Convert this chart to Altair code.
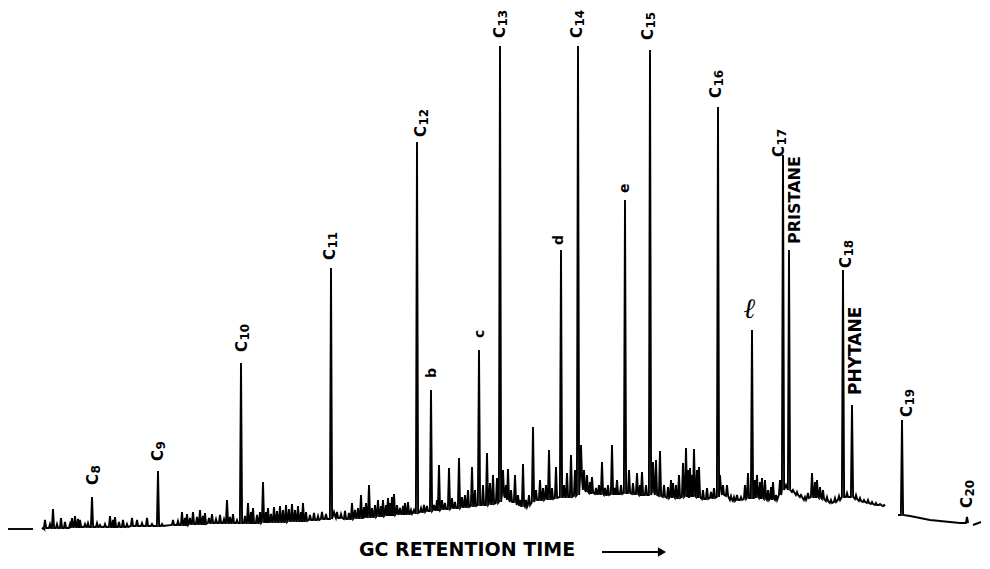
import altair as alt
import pandas as pd

# ---- chromatogram trace: peaks ----
# retention (arbitrary units), peak apex response, local baseline response
retention_time = [
    0.8, 3.3,
    4.3, 4.5, 5.0, 5.3, 5.7, 6.1, 6.5, 7.0, 7.2, 7.5, 7.8, 8.0, 8.5, 8.8, 9.2, 9.7, 10.0, 10.5,
    11.0, 11.3, 11.5, 11.9, 12.3, 12.7, 13.2, 13.7, 14.2, 14.7, 15.2, 15.8, 16.2, 17.3, 17.8, 18.2,
    18.5, 18.7, 19.0, 19.3, 19.7, 20.0, 20.3, 20.5, 20.9, 21.2, 21.6, 22.0, 22.4, 22.7, 23.0, 23.3,
    23.7, 24.1, 24.5, 24.8, 25.1, 25.3, 25.7, 26.0, 26.3, 26.6, 26.8, 27.1, 27.4, 27.7, 28.0, 28.3,
    28.6, 28.9, 29.2, 29.5, 29.8, 30.1, 30.3, 30.6, 31.0, 31.4, 31.8, 32.2, 32.6, 33.1, 33.4, 33.7,
    34.1, 34.5, 34.9, 35.2, 35.5, 35.8, 36.1, 36.4, 36.6, 36.9, 37.2, 37.5, 37.8, 38.1, 38.3, 38.6,
    38.8, 39.0, 39.2, 39.4, 39.7, 40.0, 40.3, 40.5, 40.8, 41.1, 41.4, 41.7, 42.1, 42.4, 42.7, 43.1,
    43.4, 43.7, 43.9, 44.2, 44.5, 44.9, 45.2, 45.5, 45.9, 46.2, 46.5, 46.8, 47.2, 47.5, 47.9, 48.3,
    48.7, 49.0, 49.3, 49.7, 50.0, 50.3, 50.6, 50.8, 51.1, 51.5, 51.8, 52.0, 52.3, 52.6, 52.9, 53.3,
    53.6, 54.0, 54.3, 54.6, 54.9, 55.2, 55.6, 56.1, 56.4, 56.7, 57.1, 57.5, 57.8, 58.1, 58.4, 58.7,
    59.0, 59.2, 59.6, 59.9, 60.2, 60.5, 60.8, 61.2, 61.5, 61.7, 62.1, 62.5, 62.9, 63.3, 63.7, 64.0,
    64.2, 64.6, 65.0, 65.3, 65.6, 66.0, 66.4, 66.8, 67.1, 67.3, 67.6, 67.9, 68.3, 68.6, 68.8, 69.0,
    69.2, 69.4, 69.7, 69.9, 70.3, 70.7, 71.1, 71.4, 71.8, 72.0, 72.3, 72.7, 73.1, 73.4, 73.7, 74.1,
    74.5, 74.8, 75.2, 75.5, 75.7, 76.0, 76.2, 76.5, 76.8, 77.1, 77.3, 77.6, 78.0, 78.3, 78.6, 78.9,
    79.3, 79.7, 80.1, 80.5, 80.8, 81.2, 81.5, 81.7, 82.0, 82.3, 82.7, 83.1, 83.5, 83.9, 84.3, 84.7,
    85.2, 85.6, 86.0, 86.4, 86.8, 87.2, 87.6, 88.0, 88.4,
    89.8, 90.2, 91.0, 92.0, 93.0, 94.0, 95.0, 96.0, 96.7,
    97.3, 98.1,
]
peak_top = [
    32, 32,
    33, 41, 37, 52, 37, 43, 39, 37, 43, 45, 42, 41, 37, 38, 64, 38, 36, 37,
    45, 41, 44, 39, 41, 37, 43, 41, 38, 43, 37, 90, 37, 41, 40, 49,
    43, 47, 43, 49, 44, 51, 45, 48, 43, 47, 42, 46, 42, 61, 44, 47,
    41, 198, 45, 58, 49, 53, 46, 49, 79, 49, 53, 47, 54, 50, 55, 51,
    56, 52, 57, 51, 55, 49, 58, 49, 46, 48, 45, 49, 47, 293, 49, 49,
    47, 50, 48, 58, 51, 53, 66, 54, 58, 76, 53, 56, 61, 55, 61, 56,
    63, 58, 64, 67, 56, 53, 55, 58, 59, 51, 51, 419, 53, 56, 55, 171,
    56, 61, 96, 61, 58, 93, 63, 59, 103, 64, 66, 71, 94, 71, 211, 76,
    108, 78, 86, 83, 515, 91, 76, 92, 71, 86, 66, 61, 97, 61, 66, 134,
    71, 81, 73, 76, 111, 73, 94, 311, 76, 88, 106, 91, 515, 116, 91, 86,
    79, 84, 73, 76, 99, 73, 76, 116, 73, 81, 76, 361, 91, 78, 88, 76,
    89, 76, 511, 99, 101, 110, 76, 74, 81, 78, 76, 86, 98, 113, 91, 93,
    86, 112, 91, 94, 71, 73, 69, 73, 454, 86, 76, 76, 65, 64, 66, 64,
    76, 88, 231, 81, 86, 79, 83, 81, 71, 74, 79, 66, 81, 406, 76, 311,
    71, 69, 66, 64, 68, 88, 79, 81, 74, 71, 64, 61, 63, 65, 291, 68,
    156, 66, 63, 61, 61, 59, 58, 57, 56,
    46, 141, 45, 43, 41, 40, 39, 38, 44,
    36, 39,
]
peak_base = [
    32, 32,
    32, 33, 33, 33, 33, 33, 33, 33, 34, 34, 34, 34, 34, 34, 34, 34, 34, 34,
    34, 34, 34, 34, 34, 34, 35, 35, 35, 35, 35, 35, 35, 36, 36, 36,
    36, 36, 37, 37, 37, 37, 37, 37, 38, 38, 38, 38, 38, 38, 38, 38,
    38, 38, 38, 38, 38, 38, 38, 38, 39, 39, 39, 39, 39, 39, 39, 39,
    39, 40, 40, 40, 40, 40, 40, 40, 41, 41, 41, 42, 42, 42, 45, 43,
    43, 42, 42, 42, 43, 43, 43, 43, 44, 44, 44, 44, 45, 45, 45, 46,
    46, 46, 46, 46, 47, 47, 47, 47, 47, 47, 48, 48, 49, 49, 50, 50,
    51, 51, 51, 52, 52, 52, 53, 53, 53, 54, 54, 54, 55, 55, 56, 56,
    56, 57, 57, 58, 59, 66, 63, 61, 59, 59, 56, 55, 55, 54, 56, 59,
    61, 61, 61, 62, 62, 62, 63, 64, 64, 64, 64, 65, 66, 81, 71, 69,
    68, 68, 67, 67, 67, 66, 66, 67, 67, 67, 67, 68, 68, 67, 67, 66,
    66, 66, 66, 69, 66, 65, 64, 63, 64, 64, 63, 63, 64, 65, 64, 64,
    65, 65, 64, 64, 62, 62, 63, 63, 64, 71, 66, 65, 61, 60, 61, 61,
    62, 63, 63, 63, 64, 63, 63, 62, 61, 62, 62, 61, 66, 71, 73, 71,
    69, 66, 64, 61, 63, 64, 64, 64, 63, 62, 60, 58, 59, 61, 64, 64,
    64, 62, 60, 59, 58, 57, 56, 56, 55,
    46, 46, 45, 43, 41, 40, 39, 38, 38,
    36, 39,
]
# the pen trace is broken into separate pieces starting at these retention times
segment_starts = [0.0, 4.0, 89.0, 97.0]

# ---- peak labels ----
carbon_number = [8, 9, 10, 11, 12, 13, 14, 15, 16, 17, 18, 19, 20]
carbon_time = [9.3, 15.8, 24.2, 33.0, 42.1, 50.0, 57.7, 64.8, 71.6, 77.9, 84.6, 90.7, 96.7]
carbon_level = [76, 100, 209, 301, 424, 523, 523, 521, 463, 404, 293, 144, 53]

word_text = ["PRISTANE", "PHYTANE", "b", "c", "d", "e"]
word_time = [79.5, 85.6, 43.2, 48.0, 55.9, 62.5]
word_level = [317, 166, 183, 223, 316, 368]
word_size = [16, 17, 14, 14, 14, 14]

n = min(len(retention_time), len(peak_top), len(peak_base))
rows = []
hw = 0.11
i = 0
for k in range(n):
    t, top, base = retention_time[k], peak_top[k], peak_base[k]
    seg = sum(1 for s in segment_starts if t >= s)
    if top == base:
        rows.append({"t": t, "r": base, "seg": seg, "idx": i}); i += 1
    else:
        rows.append({"t": t - hw, "r": base, "seg": seg, "idx": i}); i += 1
        rows.append({"t": t, "r": top, "seg": seg, "idx": i}); i += 1
        rows.append({"t": t + hw, "r": base, "seg": seg, "idx": i}); i += 1
trace = pd.DataFrame(rows)

carbons = pd.DataFrame({
    "c": ["C"] * len(carbon_number),
    "num": [str(v) for v in carbon_number],
    "t": carbon_time, "r": carbon_level,
})
words = pd.DataFrame({"text": word_text, "t": word_time, "r": word_level, "fs": word_size})

xs = alt.Scale(domain=[0.8, 98.2], nice=False, zero=False)
ys = alt.Scale(domain=[0, 553], nice=False, zero=False)
X = alt.X("t:Q", scale=xs, axis=None)
Y = alt.Y("r:Q", scale=ys, axis=None)

line = alt.Chart(trace).mark_line(color="black", strokeWidth=1.9, strokeJoin="miter").encode(
    x=X, y=Y, detail="seg:N", order="idx:Q",
)

c_letters = alt.Chart(carbons).mark_text(
    angle=270, align="left", baseline="middle", font="DejaVu Sans", fontWeight="bold",
    fontSize=15, color="black",
).encode(x=X, y=Y, text="c:N")

c_numbers = alt.Chart(carbons).mark_text(
    angle=270, align="left", baseline="middle", font="DejaVu Sans", fontWeight="bold",
    fontSize=12, color="black", dx=11.5, dy=3,
).encode(x=X, y=Y, text="num:N")

lab = alt.Chart(words).mark_text(
    angle=270, align="left", baseline="middle", font="DejaVu Sans", fontWeight="bold", color="black"
).encode(
    x=X, y=Y, text="text:N",
    size=alt.Size("fs:Q", scale=None, legend=None),
)

ell = alt.Chart(pd.DataFrame({"t": [75.0], "r": [251], "text": ["\u2113"]})).mark_text(
    font="DejaVu Serif", fontStyle="italic", fontWeight="bold", fontSize=28,
    align="center", baseline="middle", color="black"
).encode(x=X, y=Y, text="text:N")

title = alt.Chart(pd.DataFrame({"t": [46.7], "r": [11], "text": ["GC RETENTION TIME"]})).mark_text(
    font="DejaVu Sans", fontWeight="bold", fontSize=19, align="center", baseline="middle", color="black"
).encode(x=X, y=Y, text="text:N")

arrow_line = alt.Chart(pd.DataFrame({"t": [60.2], "t2": [65.8], "r": [9]})).mark_rule(
    color="black", strokeWidth=2
).encode(x=X, x2="t2:Q", y=Y)

arrow_head = alt.Chart(pd.DataFrame({"t": [66.2], "r": [9]})).mark_point(
    shape="triangle-right", filled=True, color="black", size=90, opacity=1
).encode(x=X, y=Y)

chart = alt.layer(line, c_letters, c_numbers, lab, ell, title, arrow_line, arrow_head).properties(
    width=974, height=553, padding=0,
    autosize=alt.AutoSizeParams(type="none"),
).configure_view(stroke=None)

chart.save("out.html", embed_options={"renderer": "svg", "actions": False})
